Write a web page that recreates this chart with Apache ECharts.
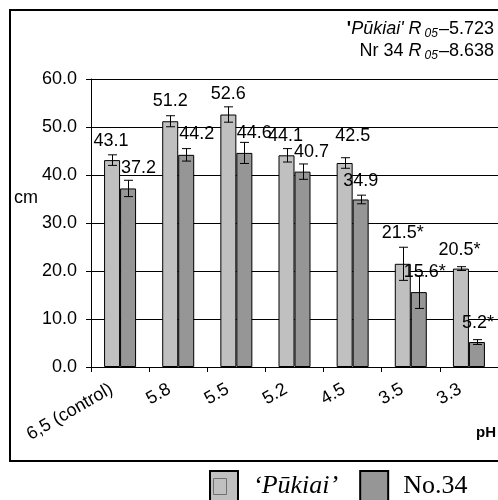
<!DOCTYPE html>
<html>
<head>
<meta charset="utf-8">
<style>
  html, body { margin: 0; padding: 0; background: #fff; }
  #chart { width: 498px; height: 500px; }
</style>
<script src="https://cdn.jsdelivr.net/npm/echarts@6/dist/echarts.min.js"></script>
</head>
<body>
<div id="chart"></div>
<script>
// Shoot length (cm) of two cultivars at different substrate pH
const categories = ['6,5 (control)', '5.8', '5.5', '5.2', '4.5', '3.5', '3.3'];
const pukiai = [43.1, 51.2, 52.6, 44.1, 42.5, 21.5, 20.5];
const nr34 = [37.2, 44.2, 44.6, 40.7, 34.9, 15.6, 5.2];
// half-width of the error bars
const pukiaiErr = [1.1, 1.15, 1.6, 1.4, 1.1, 3.45, 0.4];
const nr34Err = [1.7, 1.3, 2.2, 1.6, 0.9, 3.4, 0.5];
// significant difference from control (marked with *)
const pukiaiSig = [false, false, false, false, false, true, true];
const nr34Sig = [false, false, false, false, false, true, true];
const yMin = 0, yMax = 60, yStep = 10;

// hand-placed label nudges [dx, dy] relative to the top of each bar
const pukiaiLabelShift = [[-1, -10], [0, -11], [0, -11], [-1, -10], [8, -17.5], [0, -22], [-1.5, -10]];
const nr34LabelShift = [[10.5, -11], [10.5, -11.5], [10, -10.5], [9, -10.5], [0, -9.5], [6, -11.5], [1, -10.5]];

const SANS = '"Liberation Sans", Arial, sans-serif';
const SERIF = '"Liberation Serif", "Times New Roman", serif';
const BAR_W = 16;
const FS = 18;

function barData(values, sig, shifts) {
  return values.map((v, i) => ({
    value: v,
    label: {
      offset: shifts[i],
      formatter: v.toFixed(1) + (sig[i] ? '*' : '')
    }
  }));
}

function errorSeries(values, errs, shift) {
  return {
    type: 'custom',
    z: 5,
    silent: true,
    data: values.map((v, i) => [i, v - errs[i], v + errs[i]]),
    renderItem: function (params, api) {
      const idx = api.value(0);
      const lo = api.coord([idx, api.value(1)]);
      const hi = api.coord([idx, api.value(2)]);
      const x = Math.round(lo[0] + shift) + 0.5;
      const cap = 4.5;
      const st = { stroke: '#000', lineWidth: 1 };
      return {
        type: 'group',
        children: [
          { type: 'line', shape: { x1: x, y1: hi[1], x2: x, y2: lo[1] }, style: st },
          { type: 'line', shape: { x1: x - cap, y1: hi[1], x2: x + cap, y2: hi[1] }, style: st },
          { type: 'line', shape: { x1: x - cap, y1: lo[1], x2: x + cap, y2: lo[1] }, style: st }
        ]
      };
    }
  };
}

const chart = echarts.init(document.getElementById('chart'), null, { renderer: 'canvas' });

const barLabel = {
  show: true,
  position: 'top',
  distance: 0,
  color: '#000',
  fontFamily: SANS,
  fontSize: FS
};

chart.setOption({
  animation: false,
  backgroundColor: '#fff',
  textStyle: { fontFamily: SANS },
  grid: { left: 91, top: 79, width: 411, height: 288, containLabel: false },
  legend: {
    left: 209,
    top: 470,
    padding: 0,
    itemWidth: 28,
    itemHeight: 30,
    itemGap: 21,
    icon: 'rect',
    selectedMode: false,
    textStyle: {
      fontFamily: SERIF,
      fontSize: 26,
      color: '#000',
      padding: [0, 0, 0, 10],
      rich: {
        i: { fontFamily: SERIF, fontSize: 26, fontStyle: 'italic', color: '#000' }
      }
    },
    formatter: function (name) {
      return name === 'Pūkiai' ? '{i|‘Pūkiai’}' : name;
    },
    data: [
      { name: 'Pūkiai', itemStyle: { color: '#c0c0c0', borderColor: '#000', borderWidth: 2 } },
      { name: 'No.34', itemStyle: { color: '#969696', borderColor: '#000', borderWidth: 2 } }
    ]
  },
  xAxis: {
    type: 'category',
    data: categories,
    axisLine: { lineStyle: { color: '#000', width: 1 } },
    axisTick: { show: true, alignWithLabel: false, length: 5, lineStyle: { color: '#000' } },
    axisLabel: {
      rotate: 30,
      interval: 0,
      margin: 16,
      padding: [0, 10, 0, 0],
      color: '#000',
      fontFamily: SANS,
      fontSize: FS
    },
    splitLine: { show: false }
  },
  yAxis: {
    type: 'value',
    min: yMin,
    max: yMax,
    interval: yStep,
    axisLine: { show: true, lineStyle: { color: '#000', width: 1 } },
    axisTick: { show: true, length: 5, lineStyle: { color: '#000' } },
    axisLabel: {
      margin: 14,
      color: '#000',
      fontFamily: SANS,
      fontSize: FS,
      formatter: v => v.toFixed(1)
    },
    splitLine: { show: true, lineStyle: { color: '#000', width: 1 } }
  },
  series: [
    {
      name: 'Pūkiai',
      type: 'bar',
      barWidth: BAR_W,
      barGap: '0%',
      itemStyle: { color: '#c0c0c0', borderColor: '#000', borderWidth: 1 },
      label: barLabel,
      z: 3,
      data: barData(pukiai, pukiaiSig, pukiaiLabelShift)
    },
    {
      name: 'No.34',
      type: 'bar',
      barWidth: BAR_W,
      barGap: '0%',
      itemStyle: { color: '#969696', borderColor: '#000', borderWidth: 1 },
      label: barLabel,
      z: 3,
      data: barData(nr34, nr34Sig, nr34LabelShift)
    },
    errorSeries(pukiai, pukiaiErr, -BAR_W / 2),
    errorSeries(nr34, nr34Err, BAR_W / 2)
  ],
  graphic: [
    {
      type: 'rect',
      z: -1,
      shape: { x: 10, y: 10, width: 500, height: 451 },
      style: { fill: null, stroke: '#000', lineWidth: 2 }
    },
    {
      type: 'text',
      right: 4,
      top: 20,
      style: {
        text: "{b|'}{i|Pūkiai' R}{s|05}{n|–5.723}",
        rich: {
          b: { fontFamily: SANS, fontSize: 18, fontWeight: 'bold', color: '#000' },
          i: { fontFamily: SANS, fontSize: 18, fontStyle: 'italic', color: '#000' },
          s: { fontFamily: SANS, fontSize: 12, fontStyle: 'italic', color: '#000', verticalAlign: 'bottom', padding: [9, 1, 0, 3] },
          n: { fontFamily: SANS, fontSize: 18, color: '#000' }
        }
      }
    },
    {
      type: 'text',
      right: 4,
      top: 42,
      style: {
        text: "{n|Nr 34 }{i|R}{s|05}{n|–8.638}",
        rich: {
          i: { fontFamily: SANS, fontSize: 18, fontStyle: 'italic', color: '#000' },
          s: { fontFamily: SANS, fontSize: 12, fontStyle: 'italic', color: '#000', verticalAlign: 'bottom', padding: [9, 1, 0, 3] },
          n: { fontFamily: SANS, fontSize: 18, color: '#000' }
        }
      }
    },
    {
      type: 'text',
      x: 26,
      y: 198,
      style: { text: 'cm', fontFamily: SANS, fontSize: FS, fill: '#000', align: 'center', verticalAlign: 'middle' }
    },
    {
      type: 'text',
      x: 486,
      y: 433,
      style: { text: 'pH', fontFamily: SANS, fontSize: 15, fontWeight: 'bold', fill: '#000', align: 'center', verticalAlign: 'middle' }
    },
    {
      type: 'rect',
      z: 100,
      shape: { x: 213.5, y: 478.5, width: 13, height: 16 },
      style: { fill: null, stroke: '#707070', lineWidth: 1 }
    }
  ]
});
</script>
</body>
</html>
